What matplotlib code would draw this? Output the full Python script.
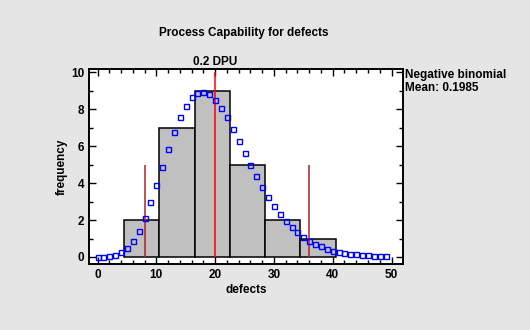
import matplotlib
matplotlib.use("Agg")
import matplotlib.pyplot as plt
from matplotlib.ticker import MultipleLocator

plt.rcParams["font.family"] = ["Liberation Sans", "DejaVu Sans"]
plt.rcParams["font.weight"] = "bold"

# histogram classes
bin_edges = [4.5, 10.5, 16.5, 22.5, 28.5, 34.5, 40.5]
bin_counts = [2, 7, 9, 5, 2, 1]

# fitted negative binomial (scaled), at each defect count
fit_x = list(range(50))
fit_y = [0.0, 0.0, 0.04, 0.11, 0.25, 0.47, 0.85, 1.39, 2.09, 2.96,
         3.88, 4.86, 5.83, 6.75, 7.56, 8.16, 8.65, 8.86, 8.92, 8.81,
         8.48, 8.05, 7.56, 6.91, 6.30, 5.61, 4.96, 4.37, 3.77, 3.23,
         2.74, 2.31, 1.93, 1.61, 1.34, 1.06, 0.85, 0.69, 0.58, 0.42,
         0.34, 0.25, 0.20, 0.14, 0.14, 0.09, 0.09, 0.04, 0.04, 0.04]

center_line = 20
center_top = 10
limit_lines = [8, 36]
limit_top = 5

bg = "#e5e5e5"
fig = plt.figure(figsize=(5.3, 3.3), dpi=100, facecolor=bg)
ax = fig.add_axes([89 / 530, 66 / 330, 314 / 530, 195 / 330])
ax.set_facecolor("white")

widths = [bin_edges[i + 1] - bin_edges[i] for i in range(len(bin_counts))]
ax.bar(bin_edges[:-1], bin_counts, width=widths, align="edge",
       color="#c0c0c0", edgecolor="black", linewidth=1.1, zorder=2)

ax.vlines(limit_lines, 0, limit_top, color="#b22222", linewidth=1.1, zorder=3)
ax.vlines(center_line, 0, center_top, color="red", linewidth=1.1, zorder=3)

ax.plot(fit_x, fit_y, linestyle="none", marker="s", markersize=3.6,
        markerfacecolor="none", markeredgecolor="blue", markeredgewidth=1.0,
        zorder=4)

ax.set_xlim(-1.45, 51.95)
ax.set_ylim(-0.38, 10.18)
ax.xaxis.set_major_locator(MultipleLocator(10))
ax.xaxis.set_minor_locator(MultipleLocator(2))
ax.yaxis.set_major_locator(MultipleLocator(2))
ax.yaxis.set_minor_locator(MultipleLocator(1))
ax.tick_params(which="both", direction="in", top=True, right=True,
               labelsize=8.5, width=1)
ax.tick_params(which="major", length=5)
ax.tick_params(which="minor", length=3)
for s in ax.spines.values():
    s.set_linewidth(1.4)

ax.set_xlabel("defects", fontsize=8.5, fontweight="bold", labelpad=2)
ax.set_ylabel("frequency", fontsize=8.5, fontweight="bold", labelpad=2)

fig.text(244 / 530, 1 - 33 / 330, "Process Capability for defects",
         ha="center", va="center", fontsize=8.5, fontweight="bold")
ax.text(center_line, 10.58, "0.2 DPU", ha="center", va="center",
        fontsize=8.5, fontweight="bold", clip_on=False)
fig.text(405 / 530, 1 - 69 / 330, "Negative binomial\nMean: 0.1985",
         ha="left", va="top", fontsize=8.5, fontweight="bold",
         linespacing=1.15)
fig.savefig("out.png", dpi=100, facecolor=bg)
